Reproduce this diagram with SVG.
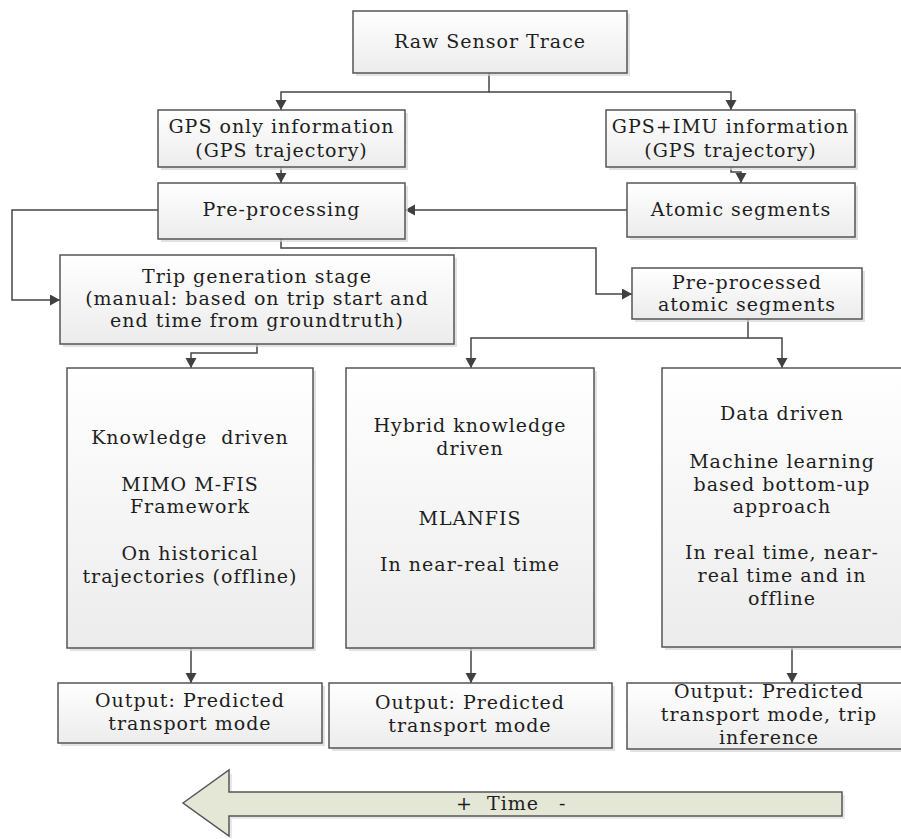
<svg xmlns="http://www.w3.org/2000/svg" width="901" height="839" viewBox="0 0 901 839">
  <defs>
    <linearGradient id="boxFill" x1="0" y1="0" x2="0" y2="1">
      <stop offset="0" stop-color="#ffffff"/>
      <stop offset="1" stop-color="#ececec"/>
    </linearGradient>
    <marker id="arrow" markerUnits="userSpaceOnUse" markerWidth="12" markerHeight="12" refX="10" refY="5.5" orient="auto">
      <path d="M0,0 L10,5.5 L0,11 z" fill="#404040"/>
    </marker>
  </defs>
  <style>
    .box { fill: url(#boxFill); stroke: #555555; stroke-width: 1.5; }
    .shadow { fill: #d6d6d6; opacity: 0.7; }
    .lbl { font-family: "DejaVu Serif", "Liberation Serif", serif; font-size: 19px; letter-spacing: 1px; fill: #1e1e1e; text-anchor: middle; }
    .conn { fill: none; stroke: #454545; stroke-width: 1.5; }
    .arr { marker-end: url(#arrow); }
  </style>

  <rect width="901" height="839" fill="#ffffff"/>

  <!-- connectors -->
  <g id="connectors">
    <path class="conn arr" d="M489,73 V92 H281 V110"/>
    <path class="conn arr" d="M489,92 H731 V110"/>
    <path class="conn arr" d="M281,167 V183"/>
    <path class="conn arr" d="M731,167 V172 H741 V183"/>
    <path class="conn arr" d="M627,210 H405"/>
    <path class="conn arr" d="M158,210 H12 V300 H60"/>
    <path class="conn arr" d="M281,239 V248 H596 V294 H632"/>
    <path class="conn arr" d="M257,344 V353 H191 V368"/>
    <path class="conn arr" d="M748,319 V338 H471 V368"/>
    <path class="conn arr" d="M748,338 H782 V368"/>
    <path class="conn arr" d="M191,648 V683"/>
    <path class="conn arr" d="M471,648 V683"/>
    <path class="conn arr" d="M792,647 V683"/>
  </g>

  <g id="raw-sensor-trace">
    <rect class="shadow" x="356" y="14" width="274" height="62"/>
    <rect class="box" x="353" y="11" width="274" height="62"/>
    <text class="lbl" x="490" y="48">Raw Sensor Trace</text>
  </g>

  <g id="gps-only">
    <rect class="shadow" x="161" y="113" width="247" height="57"/>
    <rect class="box" x="158" y="110" width="247" height="57"/>
    <text class="lbl" x="281.5" y="133">GPS only information</text>
    <text class="lbl" x="281.5" y="157">(GPS trajectory)</text>
  </g>

  <g id="gps-imu">
    <rect class="shadow" x="609" y="113" width="249" height="57"/>
    <rect class="box" x="606" y="110" width="249" height="57"/>
    <text class="lbl" x="730.5" y="133">GPS+IMU information</text>
    <text class="lbl" x="730.5" y="157">(GPS trajectory)</text>
  </g>

  <g id="pre-processing">
    <rect class="shadow" x="161" y="186" width="247" height="56"/>
    <rect class="box" x="158" y="183" width="247" height="56"/>
    <text class="lbl" x="281.5" y="216">Pre-processing</text>
  </g>

  <g id="atomic-segments">
    <rect class="shadow" x="630" y="186" width="228" height="54"/>
    <rect class="box" x="627" y="183" width="228" height="54"/>
    <text class="lbl" x="741" y="216">Atomic segments</text>
  </g>

  <g id="trip-generation">
    <rect class="shadow" x="63" y="258" width="394" height="89"/>
    <rect class="box" x="60" y="255" width="394" height="89"/>
    <text class="lbl" x="257" y="283">Trip generation stage</text>
    <text class="lbl" x="257" y="305">(manual: based on trip start and</text>
    <text class="lbl" x="257" y="327">end time from groundtruth)</text>
  </g>

  <g id="pre-processed-atomic">
    <rect class="shadow" x="635" y="271" width="230" height="51"/>
    <rect class="box" x="632" y="268" width="230" height="51"/>
    <text class="lbl" x="747" y="289">Pre-processed</text>
    <text class="lbl" x="747" y="311">atomic segments</text>
  </g>

  <g id="knowledge-driven">
    <rect class="shadow" x="70" y="371" width="246" height="280"/>
    <rect class="box" x="67" y="368" width="246" height="280"/>
    <text class="lbl" x="190" y="444" xml:space="preserve">Knowledge  driven</text>
    <text class="lbl" x="190" y="491">MIMO M-FIS</text>
    <text class="lbl" x="190" y="513">Framework</text>
    <text class="lbl" x="190" y="560">On historical</text>
    <text class="lbl" x="190" y="583">trajectories (offline)</text>
  </g>

  <g id="hybrid-knowledge-driven">
    <rect class="shadow" x="349" y="371" width="248" height="280"/>
    <rect class="box" x="346" y="368" width="248" height="280"/>
    <text class="lbl" x="470" y="432">Hybrid knowledge</text>
    <text class="lbl" x="470" y="455">driven</text>
    <text class="lbl" x="470" y="525">MLANFIS</text>
    <text class="lbl" x="470" y="571">In near-real time</text>
  </g>

  <g id="data-driven">
    <rect class="shadow" x="665" y="371" width="240" height="279"/>
    <rect class="box" x="662" y="368" width="240" height="279"/>
    <text class="lbl" x="782" y="420">Data driven</text>
    <text class="lbl" x="782" y="468">Machine learning</text>
    <text class="lbl" x="782" y="491">based bottom-up</text>
    <text class="lbl" x="782" y="513">approach</text>
    <text class="lbl" x="782" y="559">In real time, near-</text>
    <text class="lbl" x="782" y="582">real time and in</text>
    <text class="lbl" x="782" y="605">offline</text>
  </g>

  <g id="output-knowledge">
    <rect class="shadow" x="61" y="686" width="264" height="60"/>
    <rect class="box" x="58" y="683" width="264" height="60"/>
    <text class="lbl" x="190" y="707">Output: Predicted</text>
    <text class="lbl" x="190" y="730">transport mode</text>
  </g>

  <g id="output-hybrid">
    <rect class="shadow" x="332" y="686" width="283" height="65"/>
    <rect class="box" x="329" y="683" width="283" height="65"/>
    <text class="lbl" x="470" y="709">Output: Predicted</text>
    <text class="lbl" x="470" y="732">transport mode</text>
  </g>

  <g id="output-data">
    <rect class="shadow" x="630" y="686" width="284" height="66"/>
    <rect class="box" x="627" y="683" width="284" height="66"/>
    <text class="lbl" x="769" y="698">Output: Predicted</text>
    <text class="lbl" x="769" y="721">transport mode, trip</text>
    <text class="lbl" x="769" y="744">inference</text>
  </g>

  <!-- time axis arrow -->
  <g id="time-arrow">
    <polygon points="186,806 232,773 232,795 845,795 845,819 232,819 232,839" fill="#d9d9d9" opacity="0.6"/>
    <polygon points="183,803 229,770 229,792 842,792 842,816 229,816 229,836" fill="#e4e6d6" stroke="#555555" stroke-width="1.5"/>
    <text class="lbl" y="810" style="text-anchor:start"><tspan x="456">+</tspan><tspan x="487">Time</tspan><tspan x="559">-</tspan></text>
  </g>
</svg>
